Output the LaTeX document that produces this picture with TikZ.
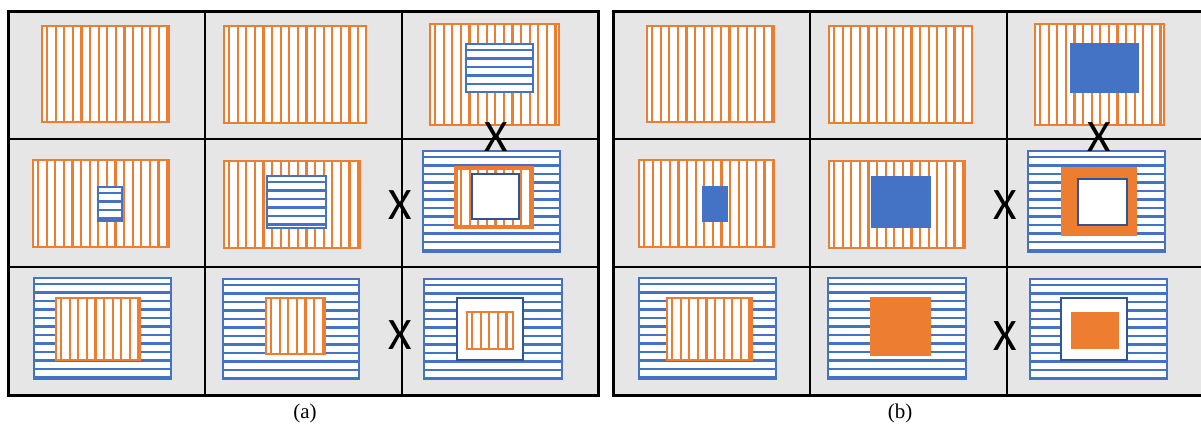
\documentclass[tikz,border=0pt]{standalone}
\usepackage{fontspec}
\setmainfont{Liberation Serif}
\newfontfamily\xfont{Carlito}

\definecolor{myorange}{HTML}{ED7D31}
\definecolor{myblue}{HTML}{4472C4}
\definecolor{darkblue}{HTML}{2F5597}
\definecolor{panelgray}{HTML}{E6E6E6}

\tikzset{
    frame/.style={line width=2.6pt},
    hatch/.style={line width=2.2pt},
    grid line/.style={black, line width=2pt},
    border/.style={black, line width=3pt},
    cross/.style={font=\xfont\fontsize{45}{45}\selectfont, inner sep=0pt},
    caption/.style={font=\fontsize{21}{21}\selectfont, inner sep=0pt}
}

% orange box with vertical lines: \vrect{x1}{y1}{x2}{y2}
\newcommand{\vrect}[4]{%
    \begin{scope}
        \clip (#1,#2) rectangle (#3,#4);
        \fill[white] (#1,#2) rectangle (#3,#4);
        \foreach \k in {0,...,20}
            \draw[myorange, hatch] ({#1+5+8.6*\k},#2) -- ({#1+5+8.6*\k},#4);
    \end{scope}
    \draw[myorange, frame] (#1,#2) rectangle (#3,#4);
}
% blue box with horizontal lines: \hrect{x1}{y1}{x2}{y2}
\newcommand{\hrect}[4]{%
    \begin{scope}
        \clip (#1,#2) rectangle (#3,#4);
        \fill[white] (#1,#2) rectangle (#3,#4);
        \foreach \k in {0,...,20}
            \draw[myblue, hatch] (#1,{#2+6+8.5*\k}) -- (#3,{#2+6+8.5*\k});
    \end{scope}
    \draw[myblue, frame] (#1,#2) rectangle (#3,#4);
}

\begin{document}
\begin{tikzpicture}[x=1pt, y=-1pt]
    \useasboundingbox (0,0) rectangle (1201,425);
    % The two gray panels and their cells.
        \fill[panelgray] (8,12) rectangle (598,395);
        \fill[panelgray] (613,12) rectangle (1204,395);
        \foreach \x in {205,402,810,1007}
            \draw[grid line] (\x,12) -- (\x,395);
        \foreach \y in {139,267} {
            \draw[grid line] (8,\y) -- (598,\y);
            \draw[grid line] (613,\y) -- (1204,\y);
        }
        \draw[border] (8,12) rectangle (598,395);
        \draw[border] (613,12) rectangle (1204,395);
    % Panel (a), first row.
        \vrect{42}{26}{169}{122}
        \vrect{224}{26}{366}{123}
        \vrect{430}{24}{559}{125}
        \hrect{466}{44}{533}{92}
    % Panel (a), second row.
        \vrect{33}{160}{169}{247}
        \hrect{98}{187}{122}{221}
        \vrect{224}{161}{360}{248}
        \hrect{267}{176}{326}{228}
        \hrect{423}{151}{560}{252}
        \vrect{456}{168}{532}{227}
        \draw[myorange, line width=3.2pt] (456,168) rectangle (532,227);
        \draw[darkblue, frame, fill=white] (472,174) rectangle (519,219);
    % Panel (a), third row.
        \hrect{34}{278}{171}{379}
        \vrect{56}{298}{140}{360}
        \hrect{223}{279}{359}{379}
        \vrect{266}{298}{325}{354}
        \hrect{424}{279}{562}{379}
        \draw[darkblue, frame, fill=white] (457,298) rectangle (523,360);
        \vrect{467}{312}{513}{349}
    % Panel (b), first row.
        \vrect{647}{26}{774}{122}
        \vrect{829}{26}{972}{123}
        \vrect{1035}{24}{1164}{125}
        \fill[myblue] (1070,43) rectangle (1139,93);
    % Panel (b), second row.
        \vrect{639}{160}{774}{247}
        \fill[myblue] (702,186) rectangle (728,222);
        \vrect{829}{161}{965}{248}
        \fill[myblue] (871,176) rectangle (931,228);
        \hrect{1028}{151}{1165}{252}
        \fill[myorange] (1061,167) rectangle (1137,236);
        \draw[darkblue, frame, fill=white] (1078,179) rectangle (1127,225);
    % Panel (b), third row.
        \hrect{639}{278}{776}{379}
        \vrect{667}{298}{752}{360}
        \hrect{828}{278}{966}{379}
        \fill[myorange] (870,297) rectangle (931,356);
        \hrect{1030}{279}{1167}{379}
        \draw[darkblue, frame, fill=white] (1061,298) rectangle (1127,360);
        \fill[myorange] (1071,312) rectangle (1119,349);
    % Below nodes are the crosses.
        \node[cross] (xa1) at (496,137) {X};
        \node[cross] (xa2) at (400,205) {X};
        \node[cross] (xa3) at (400,335) {X};
        \node[cross] (xb1) at (1099,137) {X};
        \node[cross] (xb2) at (1005,205) {X};
        \node[cross] (xb3) at (1005,336) {X};
    % Captions.
        \node[caption] (capa) at (305,413) {(a)};
        \node[caption] (capb) at (900,413) {(b)};
\end{tikzpicture}
\end{document}
